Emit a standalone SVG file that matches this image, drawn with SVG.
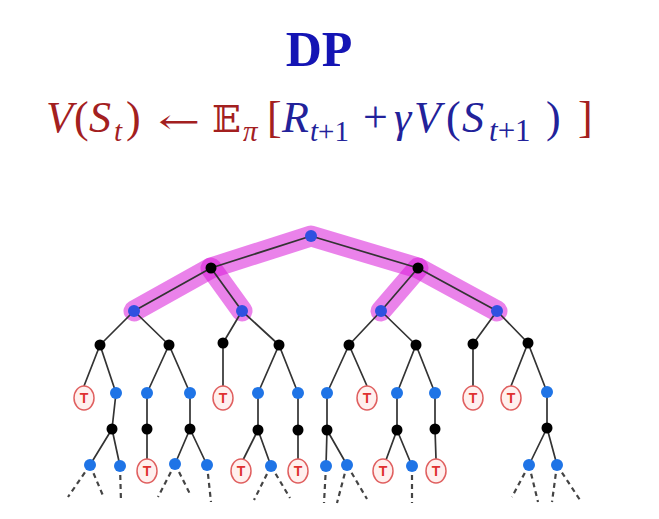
<svg xmlns="http://www.w3.org/2000/svg" width="659" height="519" viewBox="0 0 659 519">
<style>
.e{stroke:#333;stroke-width:1.7;fill:none}
.d{stroke:#444;stroke-width:2.2;fill:none;stroke-dasharray:5 4}
.hl{stroke:#d81bd8;stroke-width:21;stroke-linecap:round;stroke-linejoin:round;fill:none}
.b{fill:#1f74e6}
.bh{fill:#3050e0}
.k{fill:#000}
.te{fill:#fff0ee;stroke:#e06060;stroke-width:1.5}
.tt{fill:#e03030;font-family:"Liberation Sans",Arial,sans-serif;font-weight:bold;font-size:14px;text-anchor:middle}
.m{font-family:"Liberation Serif","Times New Roman",serif;font-size:44px}
.i{font-style:italic}
.s{font-size:29px}
.red{fill:#a3201f}
.blu{fill:#22229a}
</style>
<g id="title"><text x="319" y="66" text-anchor="middle" style="font-family:'Liberation Serif','Times New Roman',serif;font-weight:bold;font-size:50px;fill:#1414b4">DP</text></g>
<g id="formula" class="m">
<text y="132" class="red"><tspan x="46" class="i">V</tspan><tspan x="74">(</tspan><tspan x="89" class="i">S</tspan><tspan x="114" y="141" class="i s">t</tspan><tspan x="126" y="132">)</tspan></text>
<text class="red" transform="translate(158 133) scale(1.48 1)" style="font-family:'DejaVu Serif',serif;font-size:34px">←</text>
<text y="132" class="red"><tspan x="212" style="font-family:'DejaVu Serif','DejaVu Sans',serif;font-size:38px">𝔼</tspan></text>
<text y="141" class="red"><tspan x="243" class="i s">π</tspan><tspan x="267" y="132">[</tspan></text>
<text y="132" class="blu"><tspan x="282" class="i">R</tspan><tspan x="310" y="141" class="s"><tspan class="i">t</tspan>+1</tspan><tspan x="363" y="132">+</tspan><tspan x="394" class="i">γ</tspan><tspan x="414" class="i">V</tspan><tspan x="446">(</tspan><tspan x="462" class="i">S</tspan><tspan x="489" y="141" class="s" style="font-size:31px"><tspan class="i">t</tspan>+1</tspan><tspan x="546" y="132">)</tspan></text>
<text y="132" class="red"><tspan x="578">]</tspan></text>
</g>
<g id="highlight">
<path class="hl" opacity="0.55" d="M134 311L211 268L311 236L418 268L497 311"/>
<path class="hl" opacity="0.55" d="M211 268L242 311"/>
<path class="hl" opacity="0.55" d="M418 268L381 311"/>
</g>
<g id="connectors">
<path class="e" d="M311 236L211 268M311 236L418 268M211 268L134 311M211 268L242 311M418 268L381 311M418 268L497 311"/>
<path class="e" d="M134 311L100 345M134 311L169 345M242 311L223 343M242 311L279 345M381 311L349 345M381 311L416 345M497 311L473 344M497 311L528 343"/>
<path class="e" d="M100 345L84 386M100 345L116 393M169 345L147 393M169 345L190 393M223 343L223 386M279 345L258 393M279 345L298 393M349 345L327 393M349 345L367 386M416 345L397 393M416 345L435 393M473 344L473 386M528 343L511 386M528 343L547 392"/>
<path class="e" d="M116 393L112 429M147 393L147 429M190 393L190 429M258 393L258 430M298 393L298 430M327 393L327 430M397 393L397 429M435 393L435 429M547 392L547 428"/>
<path class="e" d="M112 429L90 465M112 429L120 466M147 429L147 459M190 429L175 464M190 429L207 465M258 430L243 460M258 430L271 466M298 430L298 459M327 430L326 466M327 430L347 465M397 430L386 460M397 430L412 466M435 429L436 459M547 428L529 465M547 428L557 465"/>
<path class="d" d="M90 465L68 497M90 465L104 498M120 466L121 502M175 464L158 497M175 464L191 496M207 465L211 502M271 466L254 500M271 466L290 498M326 466L324 503M347 465L337 503M347 465L367 499M412 466L412 503M529 465L512 497M529 465L538 502M557 465L552 502M557 465L580 500"/>
</g>
<g id="nodes">
<circle id="n-root" class="bh" cx="311" cy="236" r="6"/>
<circle id="n-1a" class="k" cx="211" cy="268" r="5.5"/>
<circle id="n-1b" class="k" cx="418" cy="268" r="5.5"/>
<circle id="n-2a" class="bh" cx="134" cy="311" r="6"/>
<circle id="n-2b" class="bh" cx="242" cy="311" r="6"/>
<circle id="n-2c" class="bh" cx="381" cy="311" r="6"/>
<circle id="n-2d" class="bh" cx="497" cy="311" r="6"/>
<g id="n-l3">
<circle class="k" cx="100" cy="345" r="5.5"/><circle class="k" cx="169" cy="345" r="5.5"/><circle class="k" cx="223" cy="343" r="5.5"/><circle class="k" cx="279" cy="345" r="5.5"/><circle class="k" cx="349" cy="345" r="5.5"/><circle class="k" cx="416" cy="345" r="5.5"/><circle class="k" cx="473" cy="344" r="5.5"/><circle class="k" cx="528" cy="343" r="5.5"/>
</g>
<g id="n-l4">
<circle class="b" cx="116" cy="393" r="6"/><circle class="b" cx="147" cy="393" r="6"/><circle class="b" cx="190" cy="393" r="6"/><circle class="b" cx="258" cy="393" r="6"/><circle class="b" cx="298" cy="393" r="6"/><circle class="b" cx="327" cy="393" r="6"/><circle class="b" cx="397" cy="393" r="6"/><circle class="b" cx="435" cy="393" r="6"/><circle class="b" cx="547" cy="392" r="6"/>
</g>
<g id="n-l5">
<circle class="k" cx="112" cy="429" r="5.5"/><circle class="k" cx="147" cy="429" r="5.5"/><circle class="k" cx="190" cy="429" r="5.5"/><circle class="k" cx="258" cy="430" r="5.5"/><circle class="k" cx="298" cy="430" r="5.5"/><circle class="k" cx="327" cy="430" r="5.5"/><circle class="k" cx="397" cy="430" r="5.5"/><circle class="k" cx="435" cy="429" r="5.5"/><circle class="k" cx="547" cy="428" r="5.5"/>
</g>
<g id="n-l6">
<circle class="b" cx="90" cy="465" r="6"/><circle class="b" cx="120" cy="466" r="6"/><circle class="b" cx="175" cy="464" r="6"/><circle class="b" cx="207" cy="465" r="6"/><circle class="b" cx="271" cy="466" r="6"/><circle class="b" cx="326" cy="466" r="6"/><circle class="b" cx="347" cy="465" r="6"/><circle class="b" cx="412" cy="466" r="6"/><circle class="b" cx="529" cy="465" r="6"/><circle class="b" cx="557" cy="465" r="6"/>
</g>
<g id="terminals">
<g id="t1"><ellipse class="te" cx="84" cy="398" rx="10" ry="12"/><text class="tt" x="84" y="403">T</text></g>
<g id="t2"><ellipse class="te" cx="223" cy="398" rx="10" ry="12"/><text class="tt" x="223" y="403">T</text></g>
<g id="t3"><ellipse class="te" cx="367" cy="398" rx="10" ry="12"/><text class="tt" x="367" y="403">T</text></g>
<g id="t4"><ellipse class="te" cx="473" cy="398" rx="10" ry="12"/><text class="tt" x="473" y="403">T</text></g>
<g id="t5"><ellipse class="te" cx="511" cy="398" rx="10" ry="12"/><text class="tt" x="511" y="403">T</text></g>
<g id="t6"><ellipse class="te" cx="147" cy="471" rx="10" ry="12"/><text class="tt" x="147" y="476">T</text></g>
<g id="t7"><ellipse class="te" cx="241" cy="471" rx="10" ry="12"/><text class="tt" x="241" y="476">T</text></g>
<g id="t8"><ellipse class="te" cx="298" cy="471" rx="10" ry="12"/><text class="tt" x="298" y="476">T</text></g>
<g id="t9"><ellipse class="te" cx="383" cy="471" rx="10" ry="12"/><text class="tt" x="383" y="476">T</text></g>
<g id="t10"><ellipse class="te" cx="436" cy="471" rx="10" ry="12"/><text class="tt" x="436" y="476">T</text></g>
</g>
</g>
</svg>
